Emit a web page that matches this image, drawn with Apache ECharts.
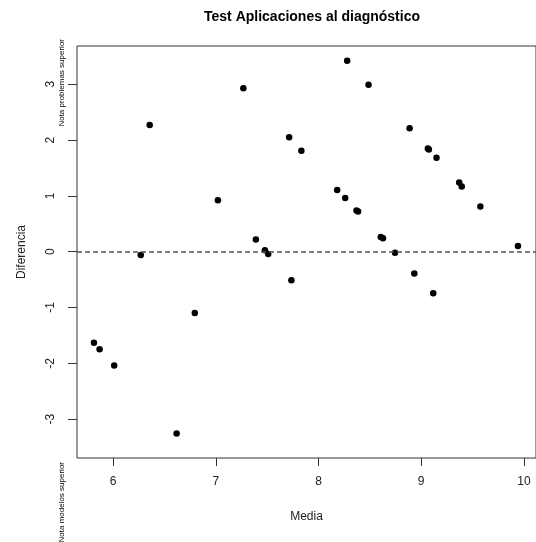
<!DOCTYPE html>
<html>
<head>
<meta charset="utf-8">
<script src="https://cdn.jsdelivr.net/npm/echarts@6/dist/echarts.min.js"></script>
<style>html,body{margin:0;padding:0;background:#fff;}#c{width:536px;height:542px;}</style>
</head>
<body>
<div id="c"></div>
<script>
// Data (Media, Diferencia)
const media = [5.813, 5.868, 6.010, 6.269, 6.356, 6.618, 6.795, 7.020, 7.268, 7.390, 7.478, 7.510,
  7.714, 7.736, 7.833, 8.182, 8.260, 8.279, 8.370, 8.385, 8.487, 8.606, 8.628, 8.745, 8.887, 8.933,
  9.065, 9.075, 9.117, 9.149, 9.370, 9.395, 9.576, 9.942];
const diferencia = [-1.63, -1.75, -2.04, -0.06, 2.27, -3.26, -1.10, 0.92, 2.93, 0.22, 0.025, -0.04,
  2.05, -0.51, 1.81, 1.106, 0.96, 3.42, 0.74, 0.72, 2.99, 0.264, 0.24, -0.02, 2.21, -0.39,
  1.85, 1.83, -0.746, 1.685, 1.24, 1.17, 0.81, 0.10];
const xTicks = [6, 7, 8, 9, 10];
const yTicks = [-3, -2, -1, 0, 1, 2, 3];
const refLine = 0;
const titleText = 'Test Aplicaciones al diagnóstico';
const xName = 'Media';
const yName = 'Diferencia';
const noteTop = 'Nota problemas superior';
const noteBottom = 'Nota modelos superior';

const points = media.map((m, i) => [m, diferencia[i]]);
const txt = '#222';
const chart = echarts.init(document.getElementById('c'), null, {renderer: 'canvas'});
chart.setOption({
  animation: false,
  backgroundColor: '#fff',
  title: {
    text: titleText, left: 307, top: 5, textAlign: 'center',
    textStyle: {fontFamily: 'Liberation Sans, Arial, sans-serif', fontWeight: 'bold', fontSize: 14, color: '#000'}
  },
  grid: {left: 77, top: 46, width: 461, height: 412, show: true, borderColor: '#333', borderWidth: 1, backgroundColor: 'transparent'},
  xAxis: {
    type: 'value', min: 5.648, max: 10.118,
    name: xName, nameLocation: 'middle', nameGap: 53,
    nameTextStyle: {fontFamily: 'Liberation Sans, Arial, sans-serif', fontSize: 12, color: txt},
    axisLine: {show: false, onZero: false},
    splitLine: {show: false},
    axisTick: {show: true, customValues: xTicks, length: 8, lineStyle: {color: '#333'}},
    axisLabel: {customValues: xTicks, margin: 18, fontFamily: 'Liberation Sans, Arial, sans-serif', fontSize: 12, color: txt}
  },
  yAxis: {
    type: 'value', min: -3.697, max: 3.686,
    name: yName, nameLocation: 'middle', nameGap: 49, nameRotate: 90,
    nameTextStyle: {fontFamily: 'Liberation Sans, Arial, sans-serif', fontSize: 12, color: txt},
    axisLine: {show: false, onZero: false},
    splitLine: {show: false},
    axisTick: {show: true, customValues: yTicks, length: 9, lineStyle: {color: '#333'}},
    axisLabel: {customValues: yTicks, rotate: 90, margin: 20, fontFamily: 'Liberation Sans, Arial, sans-serif', fontSize: 12, color: txt, align: 'center', verticalAlign: 'bottom'}
  },
  graphic: [
    {type: 'text', x: 62, y: 39, rotation: Math.PI / 2,
     style: {text: noteTop, align: 'right', verticalAlign: 'middle', fontFamily: 'Liberation Sans Narrow, Liberation Sans, Arial, sans-serif', fontSize: 8, fill: '#000'}},
    {type: 'text', x: 62, y: 462, rotation: Math.PI / 2,
     style: {text: noteBottom, align: 'right', verticalAlign: 'middle', fontFamily: 'Liberation Sans Narrow, Liberation Sans, Arial, sans-serif', fontSize: 8, fill: '#000'}}
  ],
  series: [{
    type: 'scatter',
    data: points,
    symbol: 'circle', symbolSize: 6.5,
    itemStyle: {color: '#000', opacity: 1},
    markLine: {
      silent: true, symbol: 'none', label: {show: false},
      lineStyle: {color: '#555', type: [5, 3], width: 1.5},
      data: [{yAxis: refLine}]
    }
  }]
});
</script>
</body>
</html>
